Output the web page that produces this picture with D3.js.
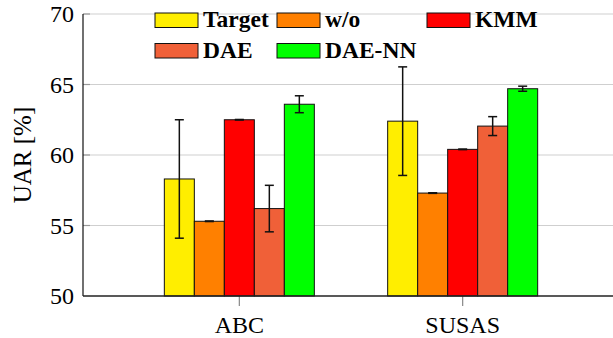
<!DOCTYPE html>
<html>
<head>
<meta charset="utf-8">
<script src="https://cdn.jsdelivr.net/npm/d3@7/dist/d3.min.js"></script>
<style>
  html, body { margin: 0; padding: 0; background: #fff; }
  svg { display: block; }
</style>
</head>
<body>
<svg id="chart" width="613" height="338"></svg>
<script>
// ---- data ----
const categories = ["ABC", "SUSAS"];
const seriesNames = ["Target", "w/o", "KMM", "DAE", "DAE-NN"];
const seriesColors = ["#FFEE00", "#FF8000", "#FF0000", "#F06038", "#00FF00"];
// values per series, in category order
const targetValues = [58.3, 62.4];
const woValues     = [55.3, 57.3];
const kmmValues    = [62.5, 60.4];
const daeValues    = [56.2, 62.05];
const daeNNValues  = [63.6, 64.7];
// error (half-range) per series
const targetErr = [4.2, 3.85];
const woErr     = [0.02, 0.02];
const kmmErr    = [0.02, 0.02];
const daeErr    = [1.65, 0.67];
const daeNNErr  = [0.6, 0.18];
const yTicks = [50, 55, 60, 65, 70];
const yLabel = "UAR [%]";

const values = [targetValues, woValues, kmmValues, daeValues, daeNNValues];
const errs = [targetErr, woErr, kmmErr, daeErr, daeNNErr];

const FONT = "'Liberation Serif', 'Times New Roman', Times, 'DejaVu Serif', serif";
const svg = d3.select("#chart").attr("font-family", FONT);
const W = 613, H = 338;
const plot = { left: 83, top: 14, bottom: 296, right: 619 };

const y = d3.scaleLinear().domain([50, 70]).range([plot.bottom, plot.top]);
const x = d3.scalePoint().domain(categories).range([plot.left, plot.right]).padding(0.7);
const xs = d3.scaleBand().domain(seriesNames).range([-75, 75]).padding(0);

// grid lines
svg.append("g").selectAll("line").data(yTicks.filter(t => t > 50)).join("line")
  .attr("x1", plot.left).attr("x2", W)
  .attr("y1", d => y(d)).attr("y2", d => y(d))
  .attr("stroke", "#cfcfcf").attr("stroke-width", 1.2);
// small inner ticks
svg.append("g").selectAll("line").data(yTicks.filter(t => t > 50)).join("line")
  .attr("x1", plot.left).attr("x2", plot.left + 7)
  .attr("y1", d => y(d)).attr("y2", d => y(d))
  .attr("stroke", "#999").attr("stroke-width", 1.2);

// x ticks
svg.append("g").selectAll("line").data(categories).join("line")
  .attr("x1", d => x(d)).attr("x2", d => x(d))
  .attr("y1", plot.bottom).attr("y2", plot.bottom + 10)
  .attr("stroke", "#888").attr("stroke-width", 1.2);

// bars
const rows = [];
seriesNames.forEach((s, si) => categories.forEach((c, ci) => {
  rows.push({ s, si, c, v: values[si][ci], e: errs[si][ci] });
}));

const gBars = svg.append("g");
gBars.selectAll("rect").data(rows).join("rect")
  .attr("x", d => x(d.c) + xs(d.s))
  .attr("width", xs.bandwidth())
  .attr("y", d => y(d.v))
  .attr("height", d => y(50) - y(d.v))
  .attr("fill", d => seriesColors[d.si])
  .attr("stroke", "#111").attr("stroke-width", 1);

// error bars
const gErr = svg.append("g").attr("stroke", "#111").attr("stroke-width", 1.5);
rows.forEach(d => {
  const cx = x(d.c) + xs(d.s) + xs.bandwidth() / 2;
  const y1 = y(d.v + d.e), y2 = y(d.v - d.e);
  gErr.append("line").attr("x1", cx).attr("x2", cx).attr("y1", y1).attr("y2", y2);
  gErr.append("line").attr("x1", cx - 4.5).attr("x2", cx + 4.5).attr("y1", y1).attr("y2", y1);
  gErr.append("line").attr("x1", cx - 4.5).attr("x2", cx + 4.5).attr("y1", y2).attr("y2", y2);
});

// axes lines
svg.append("line").attr("x1", plot.left).attr("x2", plot.left)
  .attr("y1", plot.top).attr("y2", plot.bottom).attr("stroke", "#111").attr("stroke-width", 1.2);
svg.append("line").attr("x1", plot.left).attr("x2", W)
  .attr("y1", plot.bottom).attr("y2", plot.bottom).attr("stroke", "#222").attr("stroke-width", 1.3);

// y tick labels
svg.append("g").selectAll("text").data(yTicks).join("text")
  .attr("font-family", FONT)
  .attr("x", plot.left - 9).attr("y", d => y(d)).attr("dy", "0.34em")
  .attr("text-anchor", "end").attr("font-size", 24)
  .text(d => d);

// x tick labels
svg.append("g").selectAll("text").data(categories).join("text")
  .attr("font-family", FONT)
  .attr("x", d => x(d)).attr("y", 333)
  .attr("text-anchor", "middle").attr("font-size", 24)
  .text(d => d);

// y label
svg.append("text")
  .attr("font-family", FONT)
  .attr("transform", `translate(31,${(plot.top + plot.bottom) / 2}) rotate(-90)`)
  .attr("text-anchor", "middle").attr("font-size", 25)
  .text(yLabel);

// legend
const legCols = [155, 277, 427];
const legRows = [13, 43.5];
const gLeg = svg.append("g");
seriesNames.forEach((s, i) => {
  const col = i % 3, row = Math.floor(i / 3);
  const bx = legCols[col], by = legRows[row];
  gLeg.append("rect").attr("x", bx).attr("y", by).attr("width", 43).attr("height", 14.5)
    .attr("fill", seriesColors[i]).attr("stroke", "#111").attr("stroke-width", 1);
  gLeg.append("text").attr("font-family", FONT).attr("x", bx + 48).attr("y", by + 14)
    .attr("font-size", 23.5).attr("font-weight", "bold").text(s);
});
</script>
</body>
</html>
